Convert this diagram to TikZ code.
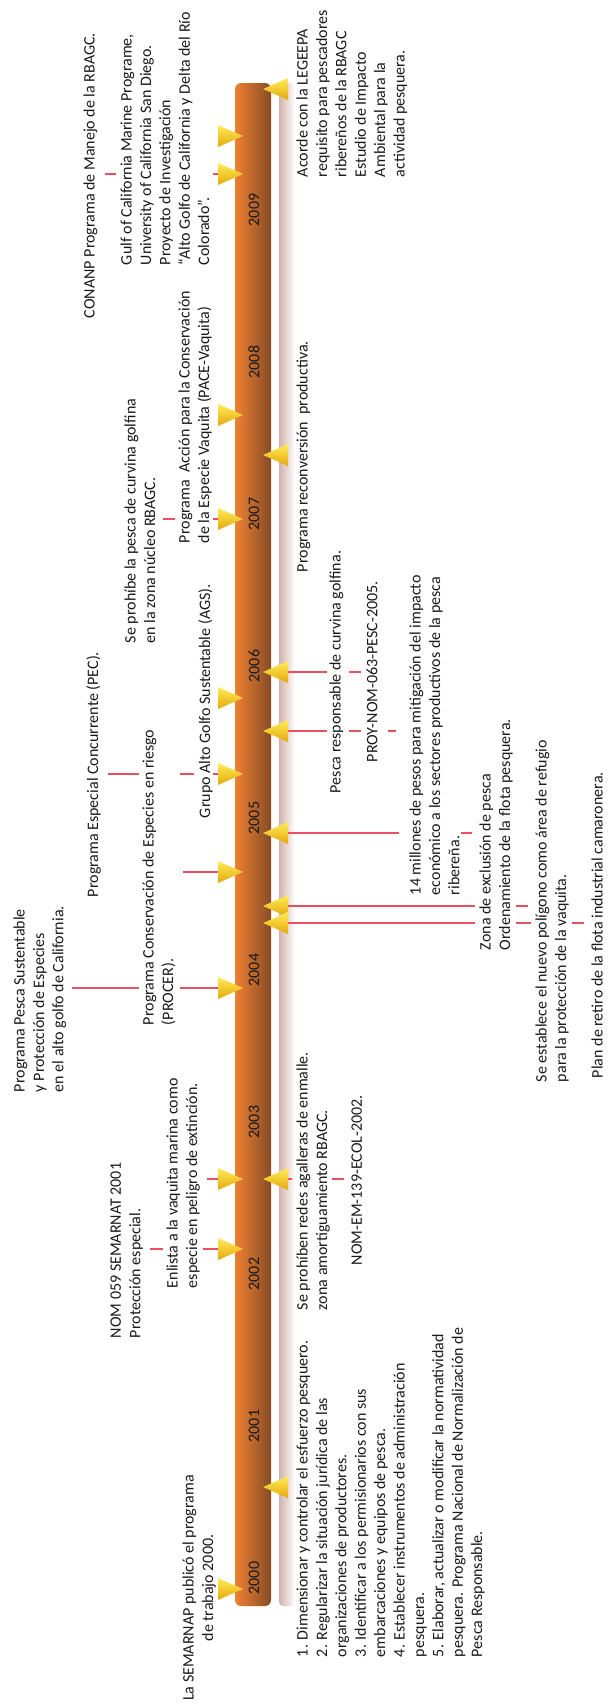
\documentclass[tikz,border=0pt]{standalone}
\usepackage{fontspec}
\setmainfont{Carlito}
\definecolor{barL}{RGB}{238,128,50}
\definecolor{barM}{RGB}{224,116,45}
\definecolor{barR}{RGB}{135,76,38}
\definecolor{shadL}{RGB}{210,178,172}
\definecolor{redl}{RGB}{236,78,98}
\definecolor{triT}{RGB}{255,236,90}
\definecolor{triB}{RGB}{228,168,10}
\definecolor{ink}{RGB}{25,25,25}
\newcommand{\fs}{\fontsize{16}{19.4}\selectfont}
\begin{document}
\begin{tikzpicture}[x=1pt,y=-1pt,
  txt/.style={rotate=90,inner sep=0pt,outer sep=0pt,font=\fs,align=left,anchor=north west,text=ink},
  yr/.style={rotate=90,inner sep=0pt,font=\fs,text=ink},
  redline/.style={draw=redl,line width=1.4pt},
  tri/.style={top color=triT,bottom color=triB,draw=none}]
\useasboundingbox (0,0) rectangle (608,1705);
% shadow strip and bar
\shade[left color=shadL,right color=white,rounded corners=4pt] (279,83) rectangle (295,1606);
\shade[left color=barL,middle color=barM,right color=barR,rounded corners=6pt] (235,83) rectangle (271,1606);
% years
\foreach \yy [count=\i from 0] in {2000,...,2009} {\node[yr] (y\yy) at (254,{1578-152*\i}) {\yy};}
% red connectors
\foreach \sy/\sa/\sb [count=\i] in {174/105/116, 174/213/218, 519/163/175, 519/213/218,
  774/108/139, 774/180/194, 774/213/218, 872/183/218, 988/72/139, 988/180/218,
  1179/207/218, 1249/150/163, 1249/203/218,
  672/288/327, 672/349/361, 731/288/327, 731/349/361, 731/388/396,
  833/288/399, 833/461/472, 906/288/475, 906/516/528,
  923/288/475, 923/516/531, 923/572/584, 1179/288/292, 1179/332/344}
  {\coordinate (ra\i) at (\sa,\sy); \coordinate (rb\i) at (\sb,\sy);
   \draw[redline] (ra\i) -- (rb\i);}
% triangles pointing to the bar
\foreach \ty [count=\i] in {136,174,415,519,698,774,872,988,1179,1249,1589}
  {\shade[tri] (218,\ty-11) -- (218,\ty+11) -- (243,\ty) -- cycle;
   \coordinate (L\i) at (243,\ty);}
\foreach \ty [count=\i] in {89,455,672,731,833,906,923,1179,1487}
  {\shade[tri] (288,\ty-11) -- (288,\ty+11) -- (263,\ty) -- cycle;
   \coordinate (R\i) at (263,\ty);}
% texts
\node[txt,align=center,anchor=north] (semarnap) at (182.5,1588) {La SEMARNAP publicó el programa\\de trabajo 2000.};
\node[txt] (lista) at (296.5,1657) {1. Dimensionar y controlar el esfuerzo pesquero.\\2. Regularizar la situación jurídica de las\\organizaciones de productores.\\3. Identificar a los permisionarios con sus\\embarcaciones y equipos de pesca.\\4. Establecer instrumentos de administración\\pesquera.\\5. Elaborar, actualizar o modificar la normatividad\\pesquera. Programa Nacional de Normalización de\\Pesca Responsable.};
\node[txt] (nom059) at (110.5,1338) {NOM 059 SEMARNAT 2001\\Protección especial.};
\node[txt] (enlista) at (166.5,1288) {Enlista a la vaquita marina como\\especie en peligro de extinción.};
\node[txt] (redes) at (296.5,1310) {Se prohíben redes agalleras de enmalle.\\zona amortiguamiento RBAGC.};
\node[txt] (nomem) at (351.5,1265) {NOM-EM-139-ECOL-2002.};
\node[txt] (pescasust) at (13.5,1092) {Programa Pesca Sustentable\\y Protección de Especies\\en el alto golfo de California.};
\node[txt] (procer) at (142.5,1025) {Programa Conservación de Especies en riesgo\\(PROCER).};
\node[txt] (pec) at (86.5,897) {Programa Especial Concurrente (PEC).};
\node[txt] (ags) at (198.5,818) {Grupo Alto Golfo Sustentable (AGS).};
\node[txt] (prohibe) at (124.5,643) {Se prohíbe la pesca de curvina golfina\\en la zona núcleo RBAGC.};
\node[txt] (pace) at (178.5,543) {Programa\ \ Acción para la Conservación\\de la Especie Vaquita (PACE-Vaquita)};
\node[txt] (conanp) at (83.5,318) {CONANP Programa de Manejo de la RBAGC.};
\node[txt] (gulf) at (120.5,265) {Gulf of California Marine Programe,\\University of California San Diego.\\Proyecto de Investigación\\“Alto Golfo de California y Delta del Río\\Colorado”.};
\node[txt] (acorde) at (296.5,177) {Acorde con la LEGEEPA\\requisito para pescadores\\ribereños de la RBAGC\\Estudio de Impacto\\Ambiental para la\\actividad pesquera.};
\node[txt] (reconv) at (296.5,572) {Programa reconversión\ \ productiva.};
\node[txt] (curvina) at (329.5,793) {Pesca responsable de curvina golfina.};
\node[txt] (proy) at (366.5,762) {PROY-NOM-063-PESC-2005.};
\node[txt] (millones) at (409.5,895) {14 millones de pesos para mitigación del impacto\\económico a los sectores productivos de la pesca\\ribereña.};
\node[txt] (zona) at (479.5,950) {Zona de exclusión de pesca\\Ordenamiento de la flota pesquera.};
\node[txt] (poligono) at (535.5,1082) {Se establece el nuevo polígono como área de refugio\\para la protección de la vaquita.};
\node[txt] (plan) at (591.5,1078) {Plan de retiro de la flota industrial camaronera.};
\end{tikzpicture}
\end{document}
